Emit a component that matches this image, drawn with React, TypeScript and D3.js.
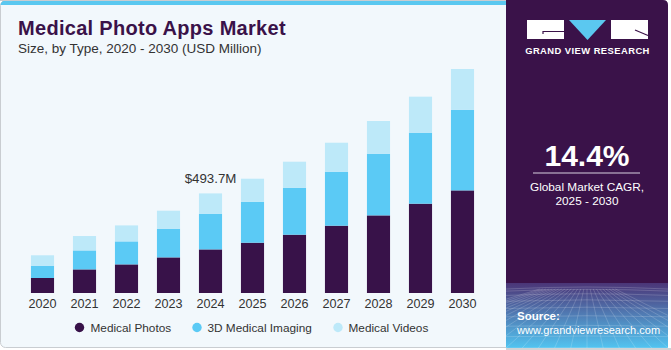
import * as d3 from 'd3';

const years = ['2020', '2021', '2022', '2023', '2024', '2025', '2026', '2027', '2028', '2029', '2030'];
const medicalPhotos = [74.4, 117.0, 141.8, 176.5, 216.1, 249.3, 289.0, 333.6, 384.7, 442.7, 508.6];
const medicalImaging3D = [61.0, 94.0, 114.0, 142.3, 177.0, 203.2, 233.0, 267.7, 305.8, 352.0, 400.0];
const medicalVideos = [51.5, 71.4, 79.3, 89.2, 100.6, 114.0, 128.9, 143.7, 162.1, 178.5, 201.7];
const seriesNames = ['Medical Photos', '3D Medical Imaging', 'Medical Videos'];
const seriesColors = ['#381249', '#5bcaf5', '#bde9f9'];
const highlightYear = '2024';
const highlightLabel = '$493.7M';

type Row = { year: string; photos: number; imaging: number; videos: number };

const rows: Row[] = years.map((y, i) => ({
  year: y,
  photos: medicalPhotos[i],
  imaging: medicalImaging3D[i],
  videos: medicalVideos[i],
}));

const W = 671;
const H = 350;
const baseY = 293;

const App = () => {
  const x = d3.scaleBand<string>().domain(years).range([21.5, 483.5]).paddingInner(0.45).paddingOuter(0.225);
  const y = d3.scaleLinear().domain([0, 1100]).range([baseY, baseY - 1100 / 4.957]);

  const stacked = d3.stack<Row>().keys(['photos', 'imaging', 'videos'])(rows);

  const hiRow = rows.find(r => r.year === highlightYear)!;
  const hiTotal = hiRow.photos + hiRow.imaging + hiRow.videos;

  // perspective grid for the source box
  const gridTop = 283;
  const gridBottom = 348;
  const gridLines: string[] = [];
  for (let i = 0; i < 9; i++) {
    const t = i / 8;
    const yy = gridTop + 6 + Math.pow(t, 1.6) * (gridBottom - gridTop - 6);
    gridLines.push(`M506,${yy} Q587,${yy - 4 + t * 3} 668,${yy}`);
  }
  for (let i = -6; i <= 18; i++) {
    const xt = 506 + i * 9;
    gridLines.push(`M${587 + (xt - 587) * 0.35},${gridTop + 6} L${587 + (xt - 587) * 1.8},${gridBottom}`);
  }

  const font = 'Liberation Sans, Arial, sans-serif';

  const legendItems = [
    { cx: 79.5, tx: 90.5 },
    { cx: 197, tx: 207.5 },
    { cx: 338, tx: 348.5 },
  ];

  return (
    <svg width={W} height={H} style={{ position: 'absolute', left: 0, top: 0 }} fontFamily={font}>
      <defs>
        <linearGradient id="srcGrad" x1="0" y1="0" x2="0" y2="1">
          <stop offset="0%" stopColor="#4b3577" />
          <stop offset="45%" stopColor="#5077b0" />
          <stop offset="100%" stopColor="#52c4f0" />
        </linearGradient>
        <clipPath id="srcClip">
          <rect x={506} y={gridTop} width={162} height={gridBottom - gridTop} />
        </clipPath>
      </defs>
      <rect x={0} y={0} width={W} height={H} fill="#ffffff" />
      {/* left panel */}
      <rect x={0.5} y={0.5} width={515} height={347} rx={5} fill="#f2f8fc" stroke="#c9cdd1" />
      <path d="M0.5,6 Q0.5,0.5 6,0.5 L506,0.5 L506,5 L0.5,5 Z" fill="#5bc8f0" />
      <rect x={0} y={0} width={506} height={1} fill="#c9cdd1" />

      {/* right panel */}
      <path d="M506,0 L663,0 Q668,0 668,5 L668,348 L506,348 Z" fill="#3a1249" />
      <rect x={506} y={gridTop} width={162} height={gridBottom - gridTop} fill="url(#srcGrad)" />
      <g clipPath="url(#srcClip)" stroke="#ffffff" strokeOpacity={0.25} strokeWidth={0.7} fill="none">
        {gridLines.map((d, i) => <path key={i} d={d} />)}
      </g>
      <rect x={506} y={348} width={165} height={2} fill="#d0d3d6" />

      {/* logo */}
      <rect x={527} y={20} width={37} height={19} fill="#ffffff" />
      <path d="M543,34 L543,31.5 L564,31.5" stroke="#3a1249" strokeWidth={1.2} fill="none" />
      <path d="M569,20 L606,20 L587.5,40 Z" fill="#5bc8f0" />
      <rect x={611} y={20} width={37} height={19} fill="#ffffff" />
      <path d="M635,30 L648,35.5" stroke="#3a1249" strokeWidth={1.2} fill="none" />
      <text x={587.5} y={54} textAnchor="middle" fill="#ffffff" fontSize={9.4} fontWeight="bold" letterSpacing={0.45}>
        GRAND VIEW RESEARCH
      </text>

      {/* CAGR */}
      <text x={587} y={166} textAnchor="middle" fill="#ffffff" fontSize={30} fontWeight="bold">14.4%</text>
      <rect x={533} y={172.5} width={107} height={1} fill="#d8d0e0" />
      <text x={587} y={191} textAnchor="middle" fill="#ffffff" fontSize={11.8}>Global Market CAGR,</text>
      <text x={587} y={205} textAnchor="middle" fill="#ffffff" fontSize={11.8}>2025 - 2030</text>

      <text x={517} y={320} fill="#ffffff" fontSize={11.5} fontWeight="bold">Source:</text>
      <text x={517} y={334} fill="#ffffff" fontSize={11}>www.grandviewresearch.com</text>

      {/* title */}
      <text x={18} y={35} fill="#3a1249" fontSize={20} fontWeight="bold" letterSpacing={0.3}>
        Medical Photo Apps Market
      </text>
      <text x={18} y={53} fill="#333333" fontSize={13.5}>Size, by Type, 2020 - 2030 (USD Million)</text>

      {/* bars */}
      {stacked.map((layer, li) => (
        <g key={layer.key} fill={seriesColors[li]}>
          {layer.map(d => (
            <rect
              key={d.data.year}
              x={x(d.data.year)}
              y={y(d[1])}
              width={x.bandwidth()}
              height={y(d[0]) - y(d[1])}
            />
          ))}
        </g>
      ))}

      <text
        x={(x(highlightYear) ?? 0) + x.bandwidth() / 2}
        y={y(hiTotal) - 10}
        textAnchor="middle"
        fill="#333333"
        fontSize={13.3}
      >
        {highlightLabel}
      </text>

      {/* x axis labels */}
      {years.map(yr => (
        <text
          key={yr}
          x={(x(yr) ?? 0) + x.bandwidth() / 2}
          y={308}
          textAnchor="middle"
          fill="#333333"
          fontSize={12.6}
        >
          {yr}
        </text>
      ))}

      {/* legend */}
      {seriesNames.map((name, i) => (
        <g key={name}>
          <circle cx={legendItems[i].cx} cy={327.5} r={4.7} fill={seriesColors[i]} />
          <text x={legendItems[i].tx} y={332} fill="#333333" fontSize={11.8}>{name}</text>
        </g>
      ))}
    </svg>
  );
};

export default App;
